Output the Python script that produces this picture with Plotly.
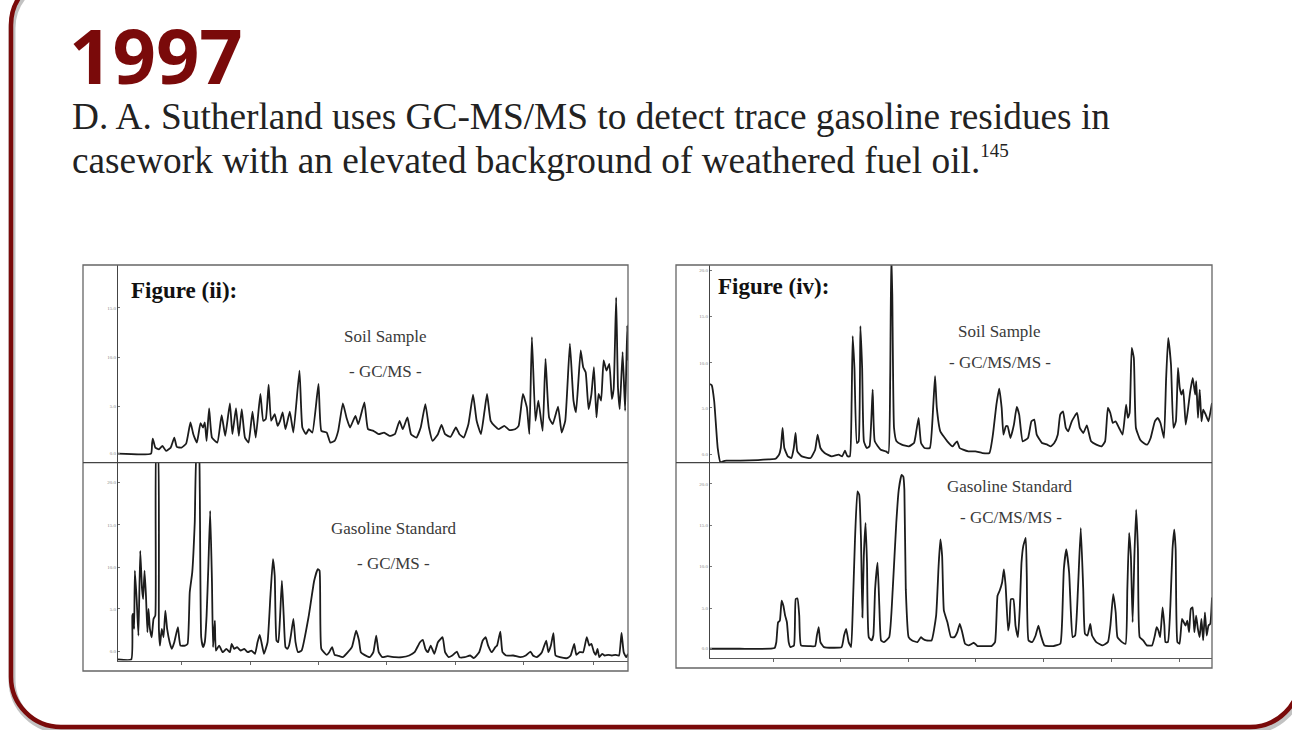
import plotly.graph_objects as go

W, H = 1292, 730

# ---------------- data (scan number, abundance) ----------------
# Figure (ii) top: Soil Sample, GC/MS
soil_ii = [(108,27),(200,27),(203,57),(205,72),(212,45),(222,40),(232,50),(242,35),(255,45),(265,75),
    (272,47),(285,45),(298,57),(310,120),(318,85),(328,60),(338,118),(345,105),(350,120),(355,65),
    (362,162),(370,75),(385,60),(397,142),(407,80),(420,177),(427,85),(437,163),(445,80),(453,160),
    (462,75),(472,60),(483,152),(492,75),(505,205),(513,125),(520,130),(528,233),(535,125),(545,145),
    (553,110),(560,125),(567,150),(575,100),(587,152),(597,90),(614,275),(622,105),(632,85),(640,100),
    (650,90),(667,235),(675,95),(690,90),(700,60),(712,65),(722,95),(735,177),(745,135),(755,105),
    (770,140),(778,115),(795,180),(805,100),(820,95),(835,85),(850,90),(865,80),(880,85),(893,125),
    (902,100),(915,135),(925,85),(940,75),(952,105),(965,175),(975,105),(985,65),(1000,85),(1010,113),
    (1020,85),(1035,77),(1050,105),(1060,85),(1072,75),(1085,115),(1098,203),(1108,125),(1120,85),
    (1130,155),(1137,205),(1147,125),(1158,110),(1170,100),(1185,110),(1200,97),(1215,100),(1225,110),
    (1237,205),(1248,165),(1255,85),(1262,375),(1272,125),(1280,185),(1292,95),(1300,310),(1310,135),
    (1320,115),(1335,167),(1345,90),(1355,125),(1368,355),(1378,185),(1385,150),(1398,335),(1405,285),
    (1412,270),(1420,160),(1428,205),(1435,285),(1442,135),(1448,205),(1455,185),(1462,305),(1470,275),
    (1478,295),(1485,190),(1490,220),(1497,493),(1502,225),(1507,160),(1515,330),(1522,155),(1528,410),
    (1530,305)]

# Figure (ii) bottom: Gasoline Standard, GC/MS
gas_ii = [(108,3),(145,3),(148,135),(150,140),(153,95),(155,270),(160,185),(165,75),(170,330),(175,215),
    (178,185),(182,270),(186,195),(190,85),(193,155),(197,95),(202,70),(207,125),(212,135),(215,640),
    (219,640),(222,95),(225,45),(230,95),(235,70),(240,150),(245,95),(252,55),(258,35),(265,55),
    (275,100),(282,45),(295,45),(302,50),(308,205),(315,265),(322,415),(328,640),(333,640),(336,515),
    (340,70),(345,40),(350,55),(355,135),(360,285),(365,450),(370,235),(373,40),(378,120),(381,30),
    (390,45),(400,25),(410,35),(420,25),(425,50),(432,35),(440,40),(450,30),(460,35),(470,25),
    (480,30),(490,20),(497,55),(503,77),(508,55),(515,20),(525,55),(533,195),(540,305),(545,255),
    (550,60),(555,55),(560,135),(565,240),(570,135),(575,40),(580,35),(585,45),(590,75),(597,125),
    (603,55),(610,25),(620,30),(640,135),(655,240),(665,275),(670,270),(675,35),(690,17),(697,25),
    (705,40),(712,17),(720,15),(735,10),(760,40),(772,90),(780,60),(785,25),(795,17),(810,10),
    (820,25),(828,75),(835,25),(845,10),(860,13),(880,10),(900,10),(920,15),(935,25),(950,55),
    (958,62),(965,35),(972,25),(980,45),(990,20),(1000,55),(1013,70),(1020,25),(1030,10),(1040,15),
    (1053,27),(1060,10),(1075,10),(1090,15),(1100,7),(1115,25),(1125,60),(1133,70),(1140,45),(1150,25),
    (1160,40),(1165,45),(1174,87),(1180,25),(1190,15),(1210,15),(1230,10),(1245,15),(1258,27),(1265,15),
    (1275,10),(1282,15),(1290,25),(1302,60),(1308,25),(1315,45),(1322,82),(1328,15),(1340,10),(1360,7),
    (1370,15),(1380,50),(1386,17),(1395,25),(1405,25),(1415,70),(1422,45),(1428,50),(1435,25),(1440,17),
    (1445,35),(1450,10),(1458,20),(1465,15),(1475,17),(1485,15),(1495,17),(1505,15),(1512,83),(1518,25),
    (1525,10),(1530,20)]

# Figure (iv) top: Soil Sample, GC/MS/MS
soil_iv = [(113,236),(118,232),(125,184),(135,44),(143,1),(150,4),(160,6),(200,6),(250,8),(280,10),
    (300,12),(310,24),(315,44),(320,104),(325,44),(335,19),(345,14),(352,44),(357,89),(362,34),
    (375,19),(400,14),(413,39),(420,84),(428,44),(440,29),(460,19),(480,24),(490,19),(498,36),
    (505,19),(512,19),(517,184),(520,379),(525,284),(532,59),(537,64),(542,409),(547,284),(552,64),
    (560,44),(568,49),(577,219),(583,64),(600,39),(615,34),(622,29),(627,254),(630,620),(633,504),
    (638,104),(645,64),(660,54),(680,49),(695,59),(700,84),(708,134),(715,59),(725,44),(740,44),
    (750,174),(755,259),(760,164),(770,94),(790,64),(805,49),(813,59),(818,64),(825,44),(835,39),
    (850,34),(870,34),(890,29),(910,29),(920,84),(930,174),(938,222),(945,164),(950,84),(957,109),
    (962,109),(970,74),(980,114),(988,167),(995,144),(1005,64),(1020,74),(1030,124),(1038,129),(1045,84),
    (1060,59),(1075,54),(1085,49),(1095,59),(1105,84),(1112,144),(1120,154),(1128,104),(1135,94),(1145,124),
    (1160,149),(1168,104),(1178,89),(1188,112),(1200,64),(1215,54),(1230,49),(1240,64),(1248,164),(1255,149),
    (1262,119),(1270,124),(1280,104),(1290,84),(1300,174),(1305,134),(1310,149),(1316,344),(1322,314),(1328,104),
    (1340,69),(1350,59),(1360,54),(1370,74),(1382,124),(1390,134),(1398,119),(1408,74),(1414,249),(1420,374),
    (1428,294),(1435,104),(1442,124),(1448,284),(1453,224),(1458,204),(1463,219),(1470,114),(1477,164),(1483,214),
    (1490,254),(1497,204),(1500,244),(1505,134),(1510,219),(1515,124),(1520,159),(1527,144),(1535,124),(1540,149),
    (1545,179)]

# Figure (iv) bottom: Gasoline Standard, GC/MS/MS
gas_iv = [(117,28),(200,28),(300,30),(305,48),(310,108),(315,113),(320,173),(325,158),(330,128),(335,108),
    (340,48),(345,33),(355,38),(360,178),(365,180),(370,128),(375,38),(400,36),(415,36),(420,68),
    (425,93),(430,48),(440,33),(490,33),(497,68),(503,88),(510,48),(517,33),(522,158),(528,358),
    (535,503),(540,493),(545,358),(549,123),(553,308),(558,408),(562,288),(567,63),(575,53),(580,68),
    (585,208),(592,288),(597,158),(602,53),(610,48),(625,63),(635,208),(645,408),(652,508),(660,553),
    (665,548),(668,508),(672,208),(680,63),(690,53),(705,48),(715,63),(720,58),(730,53),(745,53),
    (758,128),(765,278),(770,358),(775,308),(780,143),(790,108),(800,63),(810,63),(818,78),(825,103),
    (832,78),(840,43),(850,38),(865,46),(875,36),(895,36),(915,36),(925,48),(932,188),(938,203),
    (945,228),(950,268),(955,218),(962,83),(966,108),(970,178),(977,178),(983,98),(990,63),(995,148),
    (1000,288),(1005,338),(1012,363),(1015,248),(1020,53),(1030,48),(1040,68),(1048,98),(1055,68),(1065,38),
    (1090,36),(1110,43),(1115,108),(1120,268),(1127,328),(1135,258),(1140,138),(1145,63),(1152,68),(1160,208),
    (1168,393),(1175,208),(1180,73),(1187,68),(1195,103),(1200,68),(1212,48),(1230,38),(1245,48),(1252,98),
    (1260,193),(1267,138),(1272,63),(1285,48),(1295,43),(1300,208),(1305,378),(1310,308),(1315,108),(1320,308),
    (1325,448),(1330,328),(1335,63),(1345,53),(1355,38),(1370,38),(1378,68),(1383,93),(1388,83),(1393,63),
    (1400,153),(1405,98),(1408,48),(1415,48),(1422,158),(1428,328),(1433,388),(1437,328),(1442,48),(1448,43),
    (1455,118),(1460,108),(1465,98),(1470,113),(1475,78),(1480,148),(1485,153),(1490,78),(1495,128),(1500,88),
    (1505,63),(1510,118),(1515,53),(1520,138),(1525,68),(1530,98),(1535,103),(1540,183)]

# tick positions (scan / abundance) and tiny tick labels
ii_xticks = [285, 477, 668, 858, 1050, 1240, 1435]
iv_xticks = [297, 488, 680, 870, 1062, 1255, 1448]
ii_top_yticks = [27, 167, 315, 462]
ii_bot_yticks = [28, 155, 280, 408, 535]
iv_top_yticks = [26, 164, 299, 439, 576]
iv_bot_yticks = [28, 151, 276, 401, 526]
ytick_text = ["0.0", "5.0", "10.0", "15.0", "20.0"]

title_text = "1997"
line1 = "D. A. Sutherland uses GC-MS/MS to detect trace gasoline residues in"
line2 = ("casework with an elevated background of weathered fuel oil."
         "<sup><span style='font-size:19px'>145</span></sup>")

# ---------------- helpers ----------------
def fx(x):
    return x / W

def fy(y):
    return 1 - y / H

fig = go.Figure()

panels = [
    # (points, axis suffix, xrange, yrange, x-domain px, y-domain px (top,bottom), yticks, xticks or None)
    (soil_ii, "", [108, 1530], [0, 590], (118, 628), (265, 462.7), ii_top_yticks, None),
    (gas_ii, "2", [108, 1530], [0, 595], (118, 628), (462.7, 660.5), ii_bot_yticks, ii_xticks),
    (soil_iv, "3", [113, 1545], [0, 592], (710, 1212), (265, 462.7), iv_top_yticks, None),
    (gas_iv, "4", [117, 1540], [0, 590], (710, 1212), (462.7, 658), iv_bot_yticks, iv_xticks),
]

for pts, sfx, xr, yr, xd, yd, yt, xt in panels:
    xs = [p[0] for p in pts]
    ys = [p[1] for p in pts]
    fig.add_trace(go.Scatter(x=xs, y=ys, mode="lines", xaxis="x" + sfx, yaxis="y" + sfx,
                             line=dict(color="#1c1c1c", width=1.8, shape="spline", smoothing=0.4),
                             hoverinfo="skip", showlegend=False))
    xa = dict(domain=[fx(xd[0]), fx(xd[1])], range=xr, anchor="y" + sfx,
              showgrid=False, zeroline=False, fixedrange=True, showticklabels=False)
    if xt is not None:
        xa.update(showline=True, linecolor="#555", linewidth=1.2, tickvals=xt,
                  ticks="outside", ticklen=3, tickcolor="#666", tickwidth=1)
    else:
        xa.update(showline=False, ticks="")
    ya = dict(domain=[fy(yd[1]), fy(yd[0])], range=yr, anchor="x" + sfx,
              showgrid=False, zeroline=False, fixedrange=True, showline=True,
              linecolor="#444", linewidth=1.2, tickvals=yt,
              ticktext=ytick_text[:len(yt)], ticks="inside", ticklen=2, tickcolor="#777",
              tickfont=dict(size=5, color="#888", family="Liberation Serif"))
    fig.layout["xaxis" + sfx] = xa
    fig.layout["yaxis" + sfx] = ya

shapes = []

# figure frames and dividers
for (x0, y0, x1, y1) in [(83, 265, 628, 671), (676, 265, 1212, 668)]:
    shapes.append(dict(type="rect", xref="paper", yref="paper", x0=fx(x0), y0=fy(y0),
                       x1=fx(x1), y1=fy(y1), line=dict(color="#666", width=1.3)))
    shapes.append(dict(type="line", xref="paper", yref="paper", x0=fx(x0), y0=fy(462.7),
                       x1=fx(x1), y1=fy(462.7), line=dict(color="#444", width=1.3)))

# rounded slide border (top above the picture)
L, R, T, B, RAD = 11, 1300, -25, 727, 50
k = 0.5523 * RAD

def border_path(dx, dy):
    def P(x, y):
        return f"{fx(x + dx):.5f},{fy(y + dy):.5f}"
    return (f"M {P(L + RAD, T)} C {P(L + RAD - k, T)} {P(L, T + RAD - k)} {P(L, T + RAD)} "
            f"L {P(L, B - RAD)} C {P(L, B - RAD + k)} {P(L + RAD - k, B)} {P(L + RAD, B)} "
            f"L {P(R - RAD, B)} C {P(R - RAD + k, B)} {P(R, B - RAD + k)} {P(R, B - RAD)} "
            f"L {P(R, T)}")

shapes.append(dict(type="path", xref="paper", yref="paper", path=border_path(1, 3),
                   line=dict(color="rgba(120,120,120,0.45)", width=7)))
shapes.append(dict(type="path", xref="paper", yref="paper", path=border_path(0, 0),
                   line=dict(color="#7a0a0a", width=4.5)))

annotations = []

def ann(text, x, y, size, family, color, xanchor="left", weight="normal"):
    annotations.append(dict(text=text, x=fx(x), y=fy(y), xref="paper", yref="paper",
                            xanchor=xanchor, yanchor="middle", showarrow=False,
                            font=dict(size=size, family=family, color=color, weight=weight)))

ann(title_text, 67, 55, 76, "Open Sans", "#7a0a0a", weight="bold")
ann(line1, 70, 116, 37.3, "Liberation Serif", "#222")
ann(line2, 70, 160, 37.3, "Liberation Serif", "#222")

ann("Figure (ii):", 129, 290, 23, "Liberation Serif", "#111", weight="bold")
ann("Soil Sample", 385, 336, 17, "Liberation Serif", "#3a3a3a", xanchor="center")
ann("- GC/MS -", 385, 371, 17, "Liberation Serif", "#3a3a3a", xanchor="center")
ann("Gasoline Standard", 394, 528, 17, "Liberation Serif", "#3a3a3a", xanchor="center")
ann("- GC/MS -", 393, 563, 17, "Liberation Serif", "#3a3a3a", xanchor="center")

ann("Figure (iv):", 716, 286, 23, "Liberation Serif", "#111", weight="bold")
ann("Soil Sample", 999, 331, 17, "Liberation Serif", "#3a3a3a", xanchor="center")
ann("- GC/MS/MS -", 1000, 362, 17, "Liberation Serif", "#3a3a3a", xanchor="center")
ann("Gasoline Standard", 1010, 486, 17, "Liberation Serif", "#3a3a3a", xanchor="center")
ann("- GC/MS/MS -", 1011, 517, 17, "Liberation Serif", "#3a3a3a", xanchor="center")

fig.update_layout(width=W, height=H, autosize=False, margin=dict(l=0, r=0, t=0, b=0),
                  paper_bgcolor="white", plot_bgcolor="rgba(0,0,0,0)",
                  shapes=shapes, annotations=annotations, showlegend=False)

fig.write_html("out.html", config={"displayModeBar": False},
               post_script="document.body.style.margin='0px';document.body.style.overflow='hidden';")
